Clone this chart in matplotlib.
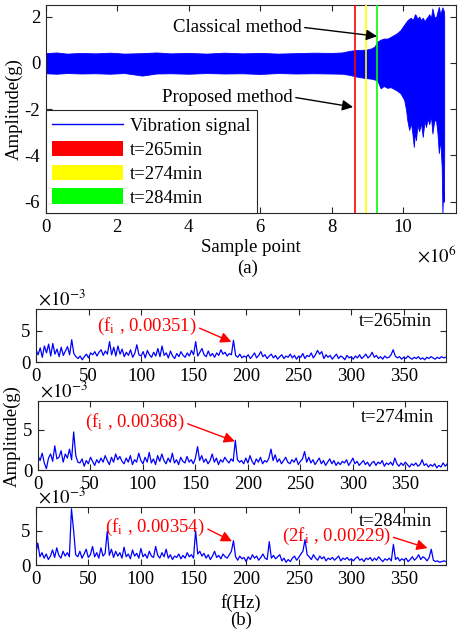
import numpy as np
import matplotlib
matplotlib.use("Agg")
import matplotlib.pyplot as plt
from matplotlib.lines import Line2D
from matplotlib.patches import Patch

plt.rcParams['font.family'] = ['Liberation Serif', 'DejaVu Serif']
plt.rcParams['mathtext.fontset'] = 'stix'
plt.rcParams['axes.unicode_minus'] = False
FS = 13.5

# ---------------- data: panel (a) envelope of vibration signal ----------------
env_x = [0, 0.3, 0.6, 1.0, 1.4, 1.8, 2.2, 2.7, 3.1, 3.5,
         4.0, 4.5, 5.0, 5.5, 6.0, 6.5, 7.0, 7.5, 8.0, 8.3,
         8.5, 8.66, 8.8, 8.96, 9.1, 9.2, 9.28, 9.37, 9.46, 9.56,
         9.65, 9.74, 9.83, 9.93, 10.03, 10.08, 10.12, 10.17, 10.22, 10.26,
         10.3, 10.33, 10.36, 10.4, 10.45, 10.5, 10.55, 10.6, 10.64, 10.69,
         10.73, 10.78, 10.82, 10.87, 10.92, 10.96, 11.0, 11.04, 11.08, 11.1,
         11.12, 11.14, 11.15]  # x 1e6 samples
env_upper = [0.42, 0.45, 0.40, 0.43, 0.41, 0.44, 0.40, 0.42, 0.45, 0.41,
             0.43, 0.40, 0.44, 0.41, 0.43, 0.40, 0.42, 0.44, 0.43, 0.45,
             0.52, 0.55, 0.56, 0.57, 0.62, 0.70, 0.92, 1.00, 1.05, 1.05,
             1.12, 1.20, 1.28, 1.42, 1.65, 1.75, 1.84, 1.90, 1.95, 1.85,
             1.95, 2.10, 2.05, 1.90, 2.00, 1.85, 1.95, 1.80, 1.90, 2.00,
             2.10, 1.95, 2.35, 2.00, 1.95, 2.20, 2.42, 2.10, 2.30, 2.40,
             2.30, 2.25, 2.00]
env_lower = [-0.45, -0.47, -0.44, -0.46, -0.45, -0.47, -0.44, -0.55, -0.46, -0.45,
             -0.47, -0.44, -0.46, -0.45, -0.48, -0.44, -0.46, -0.45, -0.46, -0.47,
             -0.52, -0.58, -0.62, -0.66, -0.68, -0.72, -0.76, -1.10, -1.00, -1.08,
             -1.05, -1.12, -1.20, -1.32, -1.60, -2.00, -2.50, -2.90, -2.60, -3.05,
             -3.63, -3.00, -3.34, -2.70, -2.95, -2.60, -3.20, -2.50, -2.77, -2.40,
             -2.65, -2.30, -3.05, -2.50, -2.48, -3.00, -3.90, -3.30, -4.50, -6.50,
             -5.50, -6.00, -4.00]
times_min = [265, 274, 284]
time_pos = [8.66, 8.96, 9.28]  # x 1e6 samples
time_colors = ['#ff0000', '#ffff00', '#00ff00']

# ---------------- data: panel (b) spectra (amplitude x 1e-3) ----------------
freq = list(range(0, 391, 2))
spec_265 = [2.0, 1.2, 2.3, 0.8, 2.6, 1.5, 2.9, 1.0, 3.0, 1.3,
            2.1, 0.9, 2.4, 1.1, 1.8, 2.5, 1.2, 3.6, 1.4, 0.9,
            0.6, 1.0, 0.4, 0.9, 1.3, 0.7, 1.5, 1.2, 1.7, 1.0,
            1.6, 2.0, 1.1, 1.8, 1.3, 3.3, 1.2, 2.4, 1.0, 2.6,
            1.3, 2.1, 0.9, 1.6, 1.1, 2.0, 0.8, 1.4, 2.8, 1.2,
            1.0, 1.7, 0.7, 1.9, 1.2, 0.8, 1.6, 1.0, 2.2, 0.9,
            2.6, 1.1, 1.5, 0.7, 1.8, 1.0, 0.6, 1.4, 0.9, 1.7,
            1.1, 0.8, 1.5, 1.0, 1.9, 1.2, 3.3, 1.0, 1.6, 2.2,
            1.2, 0.9, 1.8, 1.0, 1.4, 0.8, 1.5, 1.1, 2.0, 1.3,
            1.6, 1.0, 1.4, 1.2, 3.51, 1.1, 0.8, 1.3, 0.7, 1.0,
            0.8, 1.2, 0.6, 1.0, 1.5, 0.7, 1.1, 1.7, 0.9, 1.2,
            0.6, 1.0, 1.3, 0.7, 1.1, 0.5, 0.9, 1.2, 0.6, 1.0,
            0.8, 1.3, 0.7, 1.1, 0.5, 1.0, 0.8, 1.4, 0.6, 1.1,
            0.9, 1.5, 0.7, 1.2, 1.9, 1.3, 1.7, 0.6, 1.2, 0.8,
            1.1, 0.5, 0.9, 1.3, 0.6, 1.0, 0.8, 0.4, 1.1, 0.7,
            0.9, 0.5, 1.0, 0.7, 1.2, 0.6, 0.9, 1.3, 0.7, 1.0,
            1.6, 0.8, 1.1, 0.6, 0.9, 0.5, 1.0, 0.7, 0.8, 1.2,
            2.0, 1.0, 0.7, 0.9, 0.5, 0.8, 0.6, 1.0, 0.7, 0.5,
            0.8, 0.6, 0.9, 0.5, 0.7, 0.4, 0.8, 0.6, 0.9, 0.7,
            0.5, 0.8, 0.6, 0.9, 0.7, 0.8]
spec_274 = [1.8, 1.2, 2.1, 0.9, 0.2, 1.5, 2.0, 1.1, 3.0, 1.4,
            1.6, 2.4, 1.0, 2.0, 1.5, 2.6, 1.3, 4.7, 1.8, 1.0,
            0.9, 1.4, 0.5, 1.2, 0.8, 1.6, 1.1, 0.6, 1.3, 0.9,
            1.5, 1.0, 1.8, 1.2, 0.7, 1.6, 1.0, 2.0, 1.3, 1.7,
            1.1, 0.8, 1.5, 1.0, 1.8, 0.7, 1.3, 1.0, 2.1, 1.2,
            0.8, 1.6, 1.0, 2.2, 0.9, 1.4, 0.7, 1.8, 1.1, 2.0,
            1.2, 0.8, 1.5, 1.0, 2.1, 0.9, 1.3, 0.7, 1.6, 1.1,
            0.9, 1.7, 1.0, 1.3, 0.8, 1.5, 2.9, 1.2, 1.8, 1.0,
            1.4, 0.8, 1.2, 2.0, 1.0, 1.5, 0.7, 1.3, 1.0, 1.6,
            1.2, 0.9, 1.4, 1.1, 3.68, 1.3, 1.0, 1.2, 0.8, 1.5,
            0.9, 1.8, 1.1, 0.7, 1.4, 1.0, 1.6, 0.8, 1.2, 1.0,
            1.5, 2.6, 1.2, 1.9, 1.0, 1.4, 0.8, 1.2, 1.6, 1.0,
            0.8, 1.3, 1.0, 1.5, 0.7, 1.1, 1.4, 2.3, 1.0, 1.6,
            0.9, 1.3, 0.7, 1.1, 1.5, 0.8, 1.2, 0.6, 1.0, 1.4,
            0.8, 1.2, 0.6, 1.0, 0.7, 1.1, 0.9, 1.3, 0.6, 1.0,
            1.5, 0.8, 1.1, 0.6, 0.9, 1.2, 0.7, 1.0, 0.5, 0.9,
            1.1, 0.6, 1.0, 0.8, 1.2, 0.5, 0.9, 0.7, 1.0, 0.6,
            1.5, 0.8, 0.5, 0.9, 0.6, 1.0, 0.7, 0.4, 0.8, 0.6,
            0.9, 0.5, 0.7, 1.3, 0.6, 0.8, 0.4, 0.7, 0.5, 0.8,
            0.3, 0.6, 0.4, 0.9, 0.5, 0.8]
spec_284 = [1.5, 3.2, 1.2, 1.8, 1.0, 1.6, 0.8, 1.3, 2.2, 1.1,
            2.5, 1.4, 1.0, 2.0, 1.3, 1.8, 1.2, 8.2, 5.1, 1.5,
            1.2, 2.0, 1.0, 1.6, 2.3, 1.1, 1.5, 2.7, 1.2, 1.8,
            1.0, 2.5, 1.3, 1.7, 4.9, 1.4, 2.3, 1.1, 2.0, 1.3,
            1.8, 1.0, 2.6, 1.2, 1.6, 0.9, 2.2, 1.3, 1.7, 1.0,
            2.4, 1.2, 1.6, 1.0, 2.0, 1.3, 1.1, 2.7, 1.4, 1.0,
            1.8, 1.2, 2.3, 1.0, 1.5, 0.8, 1.3, 1.1, 1.6, 0.9,
            1.4, 1.0, 1.8, 1.2, 1.5, 1.0, 5.0, 1.6, 2.0, 1.3,
            1.7, 1.0, 1.5, 0.8, 1.3, 2.0, 1.1, 1.4, 0.9, 1.6,
            1.2, 1.0, 1.5, 2.0, 3.54, 1.2, 0.7, 1.3, 0.9, 1.1,
            0.5, 1.2, 0.8, 1.5, 1.0, 1.3, 0.7, 1.1, 1.6, 1.0,
            0.8, 3.4, 1.0, 1.4, 0.9, 1.2, 1.5, 0.6, 1.0, 0.4,
            0.8, 0.5, 1.0, 1.3, 0.7, 1.1, 1.6, 2.0, 3.7, 1.5,
            1.2, 0.8, 1.5, 1.0, 0.7, 1.3, 0.9, 1.2, 0.6, 1.0,
            0.8, 1.1, 0.7, 1.0, 1.3, 0.6, 1.0, 0.8, 1.1, 0.7,
            0.9, 0.6, 1.0, 1.2, 0.7, 0.9, 0.5, 1.0, 0.8, 1.1,
            0.6, 1.0, 0.7, 1.2, 0.8, 0.5, 0.9, 0.7, 1.0, 0.6,
            3.0, 0.8, 1.1, 0.6, 0.9, 0.7, 1.0, 0.5, 0.8, 1.2,
            0.7, 1.0, 1.5, 0.8, 1.2, 1.0, 0.6, 1.1, 2.29, 0.7,
            0.5, 0.6, 0.4, 0.5, 0.6, 0.5]
spectra = [spec_265, spec_274, spec_284]
peak_labels = [r'(f$_{\rm i}$ , 0.00351)', r'(f$_{\rm i}$ , 0.00368)', r'(f$_{\rm i}$ , 0.00354)']
harm_label = r'(2f$_{\rm i}$ , 0.00229)'

# ---------------- layout helpers (pixel -> figure fraction) ----------------
W, H = 461, 631
fig = plt.figure(figsize=(W / 100, H / 100), dpi=100)

def rect(l, r, t, b):
    return [l / W, 1 - b / H, (r - l) / W, (b - t) / H]

def style(ax):
    ax.tick_params(direction='in', top=True, right=True, labelsize=FS,
                   length=4, width=0.8, colors='#262626', labelcolor='k', pad=4)
    for s in ax.spines.values():
        s.set_color('#262626')
        s.set_linewidth(0.8)

# ---------------- panel (a) ----------------
ax = fig.add_axes(rect(45.7, 456, 5, 213.3))
ex = np.array(env_x) * 1e6
ax.fill_between(ex, env_lower, env_upper, color='#0000ff', lw=0.6, edgecolor='#0000ff', zorder=2)
for tp, c in zip(time_pos, time_colors):
    ax.axvline(tp * 1e6, color=c, lw=1.2, zorder=3)
ax.set_xlim(0, 11.48e6)
ax.set_ylim(-6.5, 2.5)
ax.set_xticks(np.arange(0, 11e6, 2e6))
ax.set_xticklabels(['0', '2', '4', '6', '8', '10'])
ax.set_yticks([-6, -4, -2, 0, 2])
style(ax)

ax.annotate('Classical method', xy=(9.27e6, 1.15), xytext=(7.17e6, 1.54),
            ha='right', va='center', fontsize=FS,
            arrowprops=dict(arrowstyle='-|>', color='k', lw=1.0, mutation_scale=16,
                            relpos=(1, 0.5), shrinkA=0, shrinkB=0))
ax.annotate('Proposed method', xy=(8.6e6, -1.91), xytext=(6.92e6, -1.48),
            ha='right', va='center', fontsize=FS,
            arrowprops=dict(arrowstyle='-|>', color='k', lw=1.0, mutation_scale=16,
                            relpos=(1, 0.5), shrinkA=0, shrinkB=0))

handles = [Line2D([], [], color='#0000ff', lw=1.0)] + \
          [Patch(facecolor=c, edgecolor='none') for c in time_colors]
labels = ['Vibration signal'] + ['t=%dmin' % t for t in times_min]
leg = ax.legend(handles, labels, loc='lower left', borderaxespad=0, fontsize=FS,
                handlelength=3.75, handleheight=0.9, labelspacing=0.3,
                handletextpad=0.4, borderpad=0.35, fancybox=False, framealpha=1)
leg.get_frame().set_edgecolor('#262626')
leg.get_frame().set_linewidth(0.8)

fig.text(14 / W, 1 - 109 / H, 'Amplitude(g)', rotation=90, ha='center', va='center', fontsize=FS)
fig.text(251 / W, 1 - 247 / H, 'Sample point', ha='center', va='center', fontsize=FS)
fig.text(456 / W, 1 - 256 / H, r'$\times 10^{6}$', ha='right', va='center', fontsize=FS)
fig.text(248 / W, 1 - 268 / H, '(a)', ha='center', va='center', fontsize=FS)

# ---------------- panel (b) ----------------
boxes = [(36, 445.7, 309, 362.3), (38, 447.3, 401, 470.3), (35.7, 446, 506.7, 565)]
exp_pos = [(38, 299), (40, 391), (38, 497)]
peak_text = [(153, 5.64), (140, 5.83), (161, 5.44)]
peak_tip = [(186, 3.25), (187.6, 3.55), (186.6, 3.45)]
tlab_y = [6.5, 6.48, 6.37]
axs = []
for k, (b, spec) in enumerate(zip(boxes, spectra)):
    a = fig.add_axes(rect(*b))
    a.plot(freq, spec, color='#0000ff', lw=0.9)
    a.set_xlim(0, 390)
    a.set_ylim(0, 8.5)
    a.set_xticks(np.arange(0, 351, 50))
    a.set_yticks([0, 5])
    style(a)
    a.text(377, tlab_y[k], 't=%dmin' % times_min[k], ha='right', va='center', fontsize=FS)
    a.annotate(peak_labels[k], xy=peak_tip[k], xytext=peak_text[k], ha='right', va='center',
               fontsize=FS, color='#ff0000',
               arrowprops=dict(arrowstyle='-|>', color='#ff0000', lw=1.0, mutation_scale=16,
                               relpos=(1, 0.5), shrinkA=0, shrinkB=0))
    fig.text(exp_pos[k][0] / W, 1 - exp_pos[k][1] / H, r'$\times 10^{-3}$', ha='left',
             va='center', fontsize=FS)
    axs.append(a)

axs[2].annotate(harm_label, xy=(372.4, 2.46), xytext=(337.4, 4.16), ha='right', va='center',
                fontsize=FS, color='#ff0000',
                arrowprops=dict(arrowstyle='-|>', color='#ff0000', lw=1.0, mutation_scale=16,
                                relpos=(1, 0.5), shrinkA=0, shrinkB=0))

fig.text(12 / W, 1 - 436 / H, 'Amplitude(g)', rotation=90, ha='center', va='center', fontsize=FS)
fig.text(241 / W, 1 - 603 / H, 'f(Hz)', ha='center', va='center', fontsize=FS)
fig.text(241 / W, 1 - 620 / H, '(b)', ha='center', va='center', fontsize=FS)

fig.savefig('out.png', dpi=100)
